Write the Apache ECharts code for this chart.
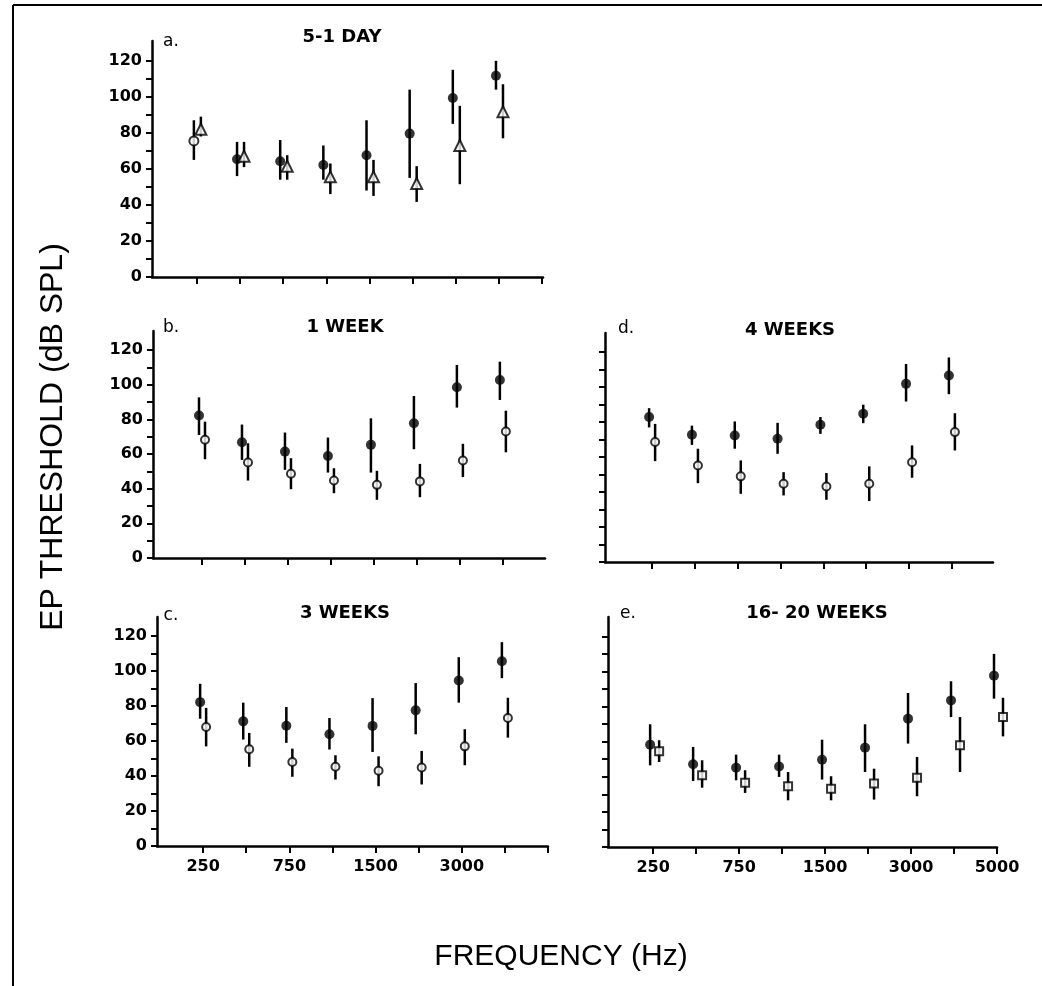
<!DOCTYPE html>
<html>
<head>
<meta charset="utf-8">
<script src="https://cdn.jsdelivr.net/npm/echarts@6/dist/echarts.min.js"></script>
<style>
  html, body { margin: 0; padding: 0; background: #fff; }
  #chart { width: 1042px; height: 986px; }
</style>
</head>
<body>
<div id="chart"></div>
<script>
// x categories (position 0..8 on every panel)
const freqLabels = ['250', '500', '750', '1000', '1500', '2000', '3000', '4000', '5000'];
const yTicks = [0, 10, 20, 30, 40, 50, 60, 70, 80, 90, 100, 110, 120];
const yLabels = [0, 20, 40, 60, 80, 100, 120];

// a. 5-1 day : filled circles + triangles
const aFilled   = [75.5, 65.4, 64.3, 62.2, 67.6, 79.6, 99.4, 111.7];
const aFilledLo = [65, 56, 54, 54, 48, 55, 85, 104];
const aFilledHi = [87, 75, 76, 73, 87, 104, 115, 120];
const aTri      = [82, 67, 61.5, 55.6, 55.6, 51.9, 73, 91.7];
const aTriLo    = [78, 61, 54, 46, 45, 41.7, 51.5, 77];
const aTriHi    = [89, 75, 67.6, 63, 65, 61.5, 95, 107];

// b. 1 week
const bFilled   = [82.2, 66.8, 61.4, 58.9, 65.3, 77.8, 98.5, 102.7];
const bFilledLo = [71, 56.6, 50.9, 49.3, 49.3, 62.8, 86.8, 91.2];
const bFilledHi = [92.7, 77, 72.4, 69.5, 80.6, 93.5, 111.4, 113.3];
const bOpen     = [68.2, 55.1, 48.6, 44.7, 42.2, 44.2, 56.3, 73];
const bOpenLo   = [57, 44.7, 39.7, 37.4, 33.6, 35.1, 46.7, 61];
const bOpenHi   = [78.7, 66.2, 57.6, 51.8, 50.3, 54.3, 65.9, 85];

// c. 3 weeks
const cFilled   = [82.3, 71.3, 68.8, 63.9, 68.7, 77.6, 94.7, 105.7];
const cFilledLo = [72.8, 60.9, 59, 55.2, 53.8, 63.9, 82, 96];
const cFilledHi = [92.8, 82, 79.5, 73.2, 84.6, 93.2, 108, 116.6];
const cOpen     = [68.1, 55.3, 48.1, 45.3, 43, 44.9, 57, 73.2];
const cOpenLo   = [57, 45.3, 39.6, 38, 34.2, 35.2, 46.2, 62];
const cOpenHi   = [79, 64.7, 55.7, 51.9, 51.3, 54.4, 66.8, 84.8];

// d. 4 weeks
const dFilled   = [82.9, 72.8, 72.4, 70.5, 78.5, 84.8, 101.9, 106.7];
const dFilledLo = [77, 67, 64.8, 61.9, 73.3, 79.4, 91.8, 96];
const dFilledHi = [88, 78, 80.4, 79.6, 82.9, 90, 113.3, 117];
const dOpen     = [68.6, 55.2, 49, 44.8, 43.2, 44.8, 57.1, 74.3];
const dOpenLo   = [57.7, 45.1, 39, 38.1, 35.6, 34.9, 48.2, 63.8];
const dOpenHi   = [79, 64.8, 58.1, 51.4, 50.9, 54.7, 66.7, 85.1];

// e. 16-20 weeks : filled circles + squares
const eFilled   = [58.3, 47.1, 45.2, 45.9, 49.7, 56.6, 73.1, 83.5, 97.6];
const eFilledLo = [46.5, 37.6, 38, 39.9, 38.4, 42.7, 58.9, 74, 84.5];
const eFilledHi = [69.9, 57, 52.6, 52.6, 61.1, 69.9, 87.7, 94.4, 110];
const eSquare   = [54.5, 40.8, 36.6, 34.6, 33.2, 36.1, 39.5, 57.9, 74];
const eSquareLo = [48.4, 33.8, 30.8, 26.6, 26.6, 27, 28.9, 42.7, 63];
const eSquareHi = [60.8, 49.4, 43.7, 42.7, 40.3, 44.6, 51.3, 74, 85];

// panel layout: pixel boxes + x extent
const panels = [
  { name: 'a', left: 152, top: 41,  width: 391, height: 236, xMin: -1.04, xMax: 8.02, yLab: true,  xLab: null },
  { name: 'b', left: 153, top: 331, width: 392, height: 227, xMin: -1.14, xMax: 7.98, yLab: true,  xLab: null },
  { name: 'c', left: 157, top: 617, width: 391, height: 229, xMin: -1.07, xMax: 8.0,  yLab: true,  xLab: [0, 2, 4, 6] },
  { name: 'd', left: 605, top: 333, width: 388, height: 229, xMin: -1.10, xMax: 7.96, yLab: false, xLab: null },
  { name: 'e', left: 608, top: 617, width: 389, height: 230, xMin: -1.05, xMax: 8.0,  yLab: false, xLab: [0, 2, 4, 6, 8] }
];

const tickFont = { fontFamily: 'DejaVu Sans', fontWeight: 'bold', fontSize: 16, color: '#000' };

const markStyles = {
  filled: { symbol: 'circle',   symbolSize: 10, dx: -3, itemStyle: { color: '#000' } },
  open:   { symbol: 'circle',   symbolSize: 8,  dx: 3,  itemStyle: { color: '#fff', borderColor: '#000', borderWidth: 2 } },
  tri:    { symbol: 'triangle', symbolSize: 11, dx: 4,  itemStyle: { color: '#fff', borderColor: '#000', borderWidth: 2 } },
  square: { symbol: 'rect',     symbolSize: 8,  dx: 6,  itemStyle: { color: '#fff', borderColor: '#000', borderWidth: 2 } }
};

function errorBars(gi, lo, hi, dx) {
  return {
    type: 'custom', xAxisIndex: gi, yAxisIndex: gi, z: 2, silent: true,
    data: lo.map((l, i) => [i, l, hi[i]]),
    encode: { x: 0, y: [1, 2] },
    renderItem: function (params, api) {
      const p1 = api.coord([api.value(0), api.value(1)]);
      const p2 = api.coord([api.value(0), api.value(2)]);
      return {
        type: 'line',
        shape: { x1: p1[0] + dx, y1: p1[1], x2: p2[0] + dx, y2: p2[1] },
        style: { stroke: '#000', lineWidth: 2.5 }
      };
    }
  };
}

function points(gi, vals, kind, hollow) {
  const s = markStyles[kind];
  return {
    type: 'scatter', xAxisIndex: gi, yAxisIndex: gi, z: 3, silent: true,
    symbol: s.symbol, symbolSize: s.symbolSize, symbolOffset: [s.dx, 0],
    itemStyle: s.itemStyle,
    data: vals.map((v, i) => {
      if (hollow && hollow.indexOf(i) >= 0) {
        return { value: [i, v], symbolSize: 9, itemStyle: markStyles.open.itemStyle };
      }
      return [i, v];
    })
  };
}

function group(gi, vals, lo, hi, kind, hollow) {
  return [errorBars(gi, lo, hi, markStyles[kind].dx), points(gi, vals, kind, hollow)];
}

const series = [].concat(
  group(0, aFilled, aFilledLo, aFilledHi, 'filled', [0]),
  group(0, aTri, aTriLo, aTriHi, 'tri'),
  group(1, bFilled, bFilledLo, bFilledHi, 'filled'),
  group(1, bOpen, bOpenLo, bOpenHi, 'open'),
  group(2, cFilled, cFilledLo, cFilledHi, 'filled'),
  group(2, cOpen, cOpenLo, cOpenHi, 'open'),
  group(3, dFilled, dFilledLo, dFilledHi, 'filled'),
  group(3, dOpen, dOpenLo, dOpenHi, 'open'),
  group(4, eFilled, eFilledLo, eFilledHi, 'filled'),
  group(4, eSquare, eSquareLo, eSquareHi, 'square')
);

const grids = panels.map(p => ({ left: p.left, top: p.top, width: p.width, height: p.height }));

const xAxes = panels.map((p, i) => ({
  type: 'value', gridIndex: i, min: p.xMin, max: p.xMax,
  splitLine: { show: false },
  axisLine: { show: true, onZero: false, lineStyle: { color: '#000', width: 2.5 } },
  axisTick: { show: true, length: 7, customValues: freqLabels.map((f, k) => k).filter(k => k <= p.xMax + 0.01),
              lineStyle: { color: '#000', width: 2 } },
  axisLabel: p.xLab ? Object.assign({ show: true, margin: 13, customValues: p.xLab,
              formatter: v => freqLabels[v] }, tickFont) : { show: false }
}));

const yAxes = panels.map((p, i) => ({
  type: 'value', gridIndex: i, min: 0, max: 131,
  splitLine: { show: false },
  axisLine: { show: true, onZero: false, lineStyle: { color: '#000', width: 2.5 } },
  axisTick: { show: true, length: 6, customValues: yTicks, lineStyle: { color: '#000', width: 2 } },
  axisLabel: p.yLab ? Object.assign({ show: true, margin: 10, customValues: yLabels }, tickFont) : { show: false }
}));

function txt(x, y, text, font, extra) {
  return Object.assign({
    type: 'text', x: x, y: y, silent: true,
    style: { text: text, font: font, fill: '#000',
             align: 'center', verticalAlign: 'middle', textAlign: 'center', textVerticalAlign: 'middle' }
  }, extra || {});
}

const titleFont = 'bold 18px "DejaVu Sans"';
const letterFont = '17px "DejaVu Sans"';

const graphics = [
  { type: 'line', silent: true, shape: { x1: 13, y1: 5, x2: 13, y2: 986 }, style: { stroke: '#000', lineWidth: 2 } },
  { type: 'line', silent: true, shape: { x1: 13, y1: 5, x2: 1042, y2: 5 }, style: { stroke: '#000', lineWidth: 2 } },
  txt(171, 42, 'a.', letterFont), txt(342, 37, '5-1 DAY', titleFont),
  txt(171, 328, 'b.', letterFont), txt(345, 327, '1 WEEK', titleFont),
  txt(171, 616, 'c.', letterFont), txt(345, 613, '3 WEEKS', titleFont),
  txt(626, 329, 'd.', letterFont), txt(790, 330, '4 WEEKS', titleFont),
  txt(628, 614, 'e.', letterFont), txt(817, 613, '16- 20 WEEKS', titleFont),
  txt(53, 437, 'EP THRESHOLD (dB SPL)', '32px "Liberation Sans"', { rotation: Math.PI / 2 }),
  txt(561, 957, 'FREQUENCY (Hz)', '30px "Liberation Sans"')
];

const chart = echarts.init(document.getElementById('chart'));
chart.setOption({
  animation: false,
  backgroundColor: '#fff',
  grid: grids,
  xAxis: xAxes,
  yAxis: yAxes,
  series: series,
  graphic: graphics
});
</script>
</body>
</html>
